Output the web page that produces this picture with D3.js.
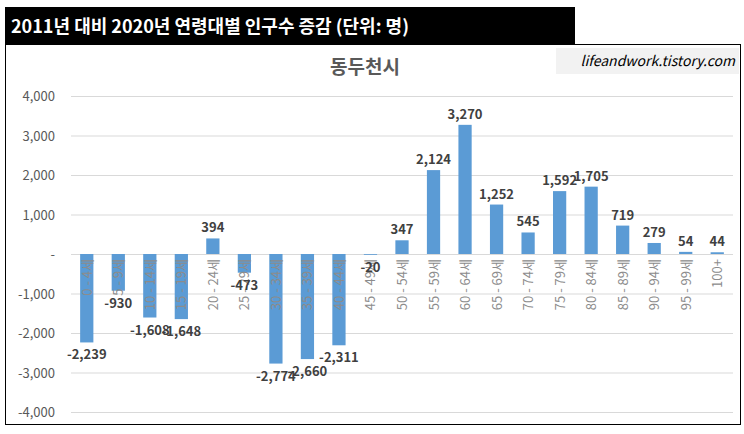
<!DOCTYPE html>
<html><head><meta charset="utf-8">
<script src="https://cdn.jsdelivr.net/npm/d3@7"></script>
<style>body{margin:0;background:#fff}</style>
</head><body>
<svg id="c" width="744" height="434"></svg>
<script>
var categories = ['0 - 4세','5 - 9세','10 - 14세','15 - 19세','20 - 24세','25 - 29세','30 - 34세','35 - 39세','40 - 44세','45 - 49세','50 - 54세','55 - 59세','60 - 64세','65 - 69세','70 - 74세','75 - 79세','80 - 84세','85 - 89세','90 - 94세','95 - 99세','100+'];
var values = [-2239,-930,-1608,-1648,394,-473,-2774,-2660,-2311,-20,347,2124,3270,1252,545,1592,1705,719,279,54,44];
var yTicks = [4000,3000,2000,1000,0,-1000,-2000,-3000,-4000];

var font = "'Noto Sans CJK KR', sans-serif";
var fmt = function (d) { return d3.format(',')(d).replace('\u2212', '-'); };
var svg = d3.select('#c');

// frame
svg.append('rect').attr('x', 5.5).attr('y', 44.5).attr('width', 735).attr('height', 380)
    .attr('fill', '#fff').attr('stroke', '#000').attr('stroke-width', 1);
svg.append('rect').attr('x', 5).attr('y', 7).attr('width', 570).attr('height', 38).attr('fill', '#000');
svg.append('text').attr('x', 11).attr('y', 33).attr('fill', '#fff')
    .attr('font-family', font).attr('font-size', 18).attr('font-weight', 'bold')
    .text('2011년 대비 2020년 연령대별 인구수 증감 (단위: 명)');

svg.append('rect').attr('x', 556).attr('y', 48).attr('width', 183).attr('height', 26).attr('fill', '#f2f2f2');
svg.append('text').attr('x', 735).attr('y', 66).attr('text-anchor', 'end')
    .attr('font-family', font).attr('font-size', 14).attr('font-style', 'italic').attr('fill', '#000')
    .text('lifeandwork.tistory.com');

svg.append('text').attr('x', 365).attr('y', 74).attr('text-anchor', 'middle')
    .attr('font-family', font).attr('font-size', 19).attr('font-weight', 'bold').attr('fill', '#595959')
    .text('동두천시');

var x = d3.scaleBand().domain(categories).range([71, 733]).paddingInner(0.58).paddingOuter(0.29);
var y = d3.scaleLinear().domain([-4000, 4000]).range([412, 96]);

// grid + y labels
svg.selectAll('.grid').data(yTicks).enter().append('line')
    .attr('x1', 71).attr('x2', 733)
    .attr('y1', function (d) { return y(d) + 0.5; })
    .attr('y2', function (d) { return y(d) + 0.5; })
    .attr('stroke', '#d9d9d9');
svg.selectAll('.ylab').data(yTicks).enter().append('text')
    .attr('x', 55).attr('y', function (d) { return y(d) + 5; })
    .attr('text-anchor', 'end').attr('font-family', font).attr('font-size', 13).attr('fill', '#595959')
    .text(function (d) { return d === 0 ? '-' : fmt(d); });

// bars
svg.selectAll('.bar').data(values).enter().append('rect')
    .attr('x', function (d, i) { return x(categories[i]); })
    .attr('width', x.bandwidth())
    .attr('y', function (d) { return y(Math.max(0, d)); })
    .attr('height', function (d) { return Math.abs(y(d) - y(0)); })
    .attr('fill', '#5b9bd5');

// category labels
svg.selectAll('.cat').data(categories).enter().append('text')
    .attr('transform', function (d) {
        return 'translate(' + (x(d) + x.bandwidth() / 2 + 5) + ',' + 259 + ') rotate(-90)';
    })
    .attr('text-anchor', 'end').attr('font-family', font).attr('font-size', 13).attr('fill', '#8c8c8c')
    .text(function (d) { return d; });

// value labels
svg.selectAll('.val').data(values).enter().append('text')
    .attr('x', function (d, i) { return x(categories[i]) + x.bandwidth() / 2; })
    .attr('y', function (d) { return d >= 0 ? y(d) - 6 : y(d) + 17; })
    .attr('text-anchor', 'middle').attr('font-family', font).attr('font-size', 13).attr('font-weight', 'bold')
    .attr('fill', '#404040')
    .text(function (d) { return fmt(d); });
</script>
</body></html>
